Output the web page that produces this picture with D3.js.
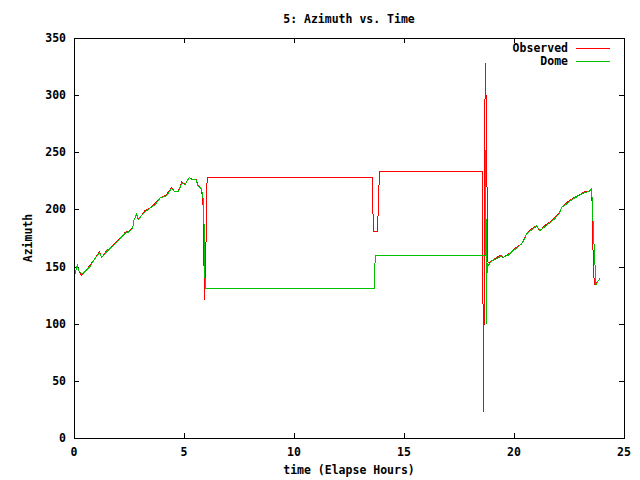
<!DOCTYPE html>
<html>
<head>
<meta charset="utf-8">
<script src="https://cdn.jsdelivr.net/npm/d3@7"></script>
<style>
  body { margin: 0; background: #fff; }
  text { font-family: "DejaVu Sans Mono", monospace; font-weight: bold; font-size: 11.5px; fill: #000; }
</style>
</head>
<body>
<div id="chart"></div>
<script>
// Observed azimuth (red)
let obsTime = [0.00, 0.15, 0.23, 0.35, 0.50, 0.73, 0.91, 1.15, 1.26, 1.49, 1.71, 1.94, 2.17, 2.32, 2.51, 2.67,
  2.73, 2.85, 2.92, 3.08, 3.23, 3.45, 3.68, 3.91, 4.21, 4.44, 4.56, 4.74, 4.90, 5.05, 5.24, 5.38, 5.55, 5.65, 5.80,
  5.88, 5.91, 5.93, 5.98, 6.03, 6.05, 13.55, 13.56, 13.60, 13.63, 13.80, 13.82, 13.86, 13.90, 18.55, 18.56, 18.60,
  18.62, 18.69, 18.75, 18.78, 18.82,
  18.99, 19.21, 19.40, 19.51, 19.74, 19.89, 20.12, 20.35, 20.50, 20.58, 20.80, 21.03, 21.18, 21.41, 21.64, 21.86,
  22.06, 22.17, 22.40, 22.70, 23.00, 23.23, 23.41, 23.53, 23.56, 23.60, 23.65, 23.74, 23.80, 23.91];
let obsAz = [140, 151, 146, 142, 146, 151, 156, 163, 158, 164, 167, 172, 176, 180, 181, 184,
  191, 196, 192, 195, 199, 201, 205, 210, 213, 219, 216, 216, 224, 222, 228, 226, 226, 221, 218,
  200, 150, 121, 150, 200, 228, 228, 217, 191, 180.5, 180.5, 195, 220, 233.6, 233.6, 181, 100,
  23, 328, 284, 200, 153,
  155, 158, 160, 158, 161, 163, 167, 170, 176, 179, 183, 186, 181, 186, 189, 193,
  197, 202, 206, 210, 213, 216, 216, 218.5, 198, 156, 134, 135, 137, 139.5];

// Dome azimuth (green)
let domeTime = [0.00, 0.15, 0.23, 0.35, 0.50, 0.73, 0.91, 1.15, 1.26, 1.49, 1.71, 1.94, 2.17, 2.32, 2.51, 2.67,
  2.73, 2.85, 2.92, 3.08, 3.23, 3.45, 3.68, 3.91, 4.21, 4.44, 4.56, 4.74, 4.90, 5.05, 5.24, 5.38, 5.55, 5.65, 5.80,
  5.90, 5.93, 5.98, 13.65, 13.68, 13.71, 18.70, 18.72, 18.74, 18.78, 18.83,
  18.99, 19.21, 19.40, 19.51, 19.74, 19.89, 20.12, 20.35, 20.50, 20.58, 20.80, 21.03, 21.18, 21.41, 21.64, 21.86,
  22.06, 22.17, 22.40, 22.70, 23.00, 23.23, 23.41, 23.53, 23.60, 23.67, 23.73, 23.80, 23.91];
let domeAz = [140, 151, 146, 143.5, 145.5, 150, 156, 162, 158, 163, 167, 171, 176, 179, 180.5, 183.5,
  191, 196, 191, 195, 198, 201, 204, 210, 212, 218.5, 215.5, 215.5, 223, 222, 228, 225.8, 225.8, 220, 218,
  205, 150, 130.4, 130.4, 152.8, 159.5, 159.5, 252, 100, 153, 151,
  155, 157, 159, 158, 160, 163, 166, 170, 175, 179, 182, 185.5, 181.5, 185, 188.5, 192,
  196.5, 202, 205, 209.5, 212.5, 215, 215.5, 218.5, 186, 156, 134, 137, 139.5];

let xTicks = [0, 5, 10, 15, 20, 25];
let yTicks = [0, 50, 100, 150, 200, 250, 300, 350];

let width = 640, height = 480;
let margin = {top: 38, right: 16, bottom: 42, left: 74};
let w = width - margin.left - margin.right;
let h = height - margin.top - margin.bottom;

let svg = d3.select("#chart").append("svg")
  .attr("width", width)
  .attr("height", height);

let g = svg.append("g")
  .attr("transform", "translate(" + margin.left + "," + margin.top + ")");

let xScale = d3.scaleLinear().domain([0, 25]).range([0, w]);
let yScale = d3.scaleLinear().domain([0, 350]).range([h, 0]);

// ticks on all four sides, pointing inward like gnuplot
let tk = 5;
let ticks = g.append("g").attr("shape-rendering", "crispEdges")
  .attr("stroke", "#000").attr("stroke-width", 1);
xTicks.forEach(function(t) {
  let x = Math.round(xScale(t)) + 0.5;
  ticks.append("line").attr("x1", x).attr("x2", x).attr("y1", h).attr("y2", h - tk);
  ticks.append("line").attr("x1", x).attr("x2", x).attr("y1", 0).attr("y2", tk);
  g.append("text").attr("x", xScale(t)).attr("y", h + 18)
    .attr("text-anchor", "middle").text(t);
});
yTicks.forEach(function(t) {
  let y = Math.round(yScale(t)) + 0.5;
  ticks.append("line").attr("x1", 0).attr("x2", tk).attr("y1", y).attr("y2", y);
  ticks.append("line").attr("x1", w).attr("x2", w - tk).attr("y1", y).attr("y2", y);
  g.append("text").attr("x", -8).attr("y", yScale(t) + 4)
    .attr("text-anchor", "end").text(t);
});

// data lines
let line = d3.line()
  .x((d) => xScale(d[0]))
  .y((d) => yScale(d[1]));

let obs = obsTime.map((t, i) => [t, obsAz[i]]);
let dome = domeTime.map((t, i) => [t, domeAz[i]]);

g.append("path").datum(obs)
  .attr("d", line).attr("fill", "none")
  .attr("stroke", "#ff0000").attr("stroke-width", 1)
  .attr("shape-rendering", "crispEdges");
g.append("path").datum(dome)
  .attr("d", line).attr("fill", "none")
  .attr("stroke", "#00c000").attr("stroke-width", 1)
  .attr("shape-rendering", "crispEdges");

// frame
g.append("rect").attr("x", 0.5).attr("y", 0.5).attr("width", w).attr("height", h)
  .attr("fill", "none").attr("stroke", "#000").attr("shape-rendering", "crispEdges");

// legend
let legend = [["Observed", "#ff0000"], ["Dome", "#00c000"]];
legend.forEach(function(d, i) {
  let y = 10 + i * 13;
  g.append("text").attr("x", 494).attr("y", y + 4)
    .attr("text-anchor", "end").text(d[0]);
  g.append("line").attr("x1", 502).attr("x2", 536)
    .attr("y1", y + 0.5).attr("y2", y + 0.5)
    .attr("stroke", d[1]).attr("shape-rendering", "crispEdges");
});

// titles
svg.append("text").attr("x", 349).attr("y", 23)
  .attr("text-anchor", "middle").text("5: Azimuth vs. Time");
svg.append("text").attr("x", 349).attr("y", 474)
  .attr("text-anchor", "middle").text("time (Elapse Hours)");
svg.append("text").attr("transform", "translate(32,238) rotate(-90)")
  .attr("text-anchor", "middle").text("Azimuth");
</script>
</body>
</html>
